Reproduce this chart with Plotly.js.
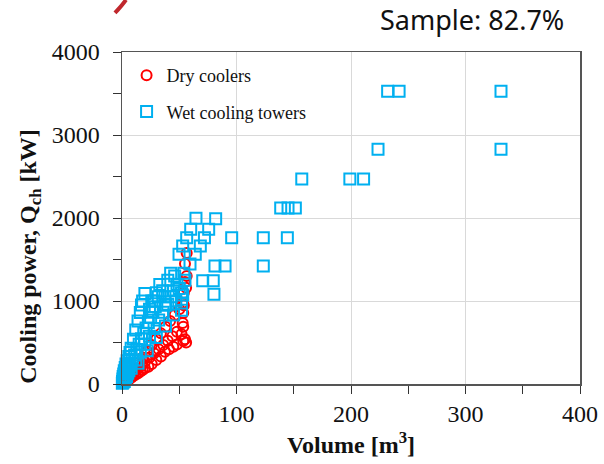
<!DOCTYPE html>
<html>
<head>
<meta charset="utf-8">
<script src="https://cdn.plot.ly/plotly-3.0.1.min.js"></script>
<style>html,body{margin:0;padding:0;background:#fff;}#chart{width:604px;height:464px;}</style>
</head>
<body>
<div id="chart"></div>
<script>
// Dry coolers (x: volume m3, y: cooling power kW)
var dryX = [0.5,0.8,1,1.5,2,2.5,3,4,6,8,10,12,14,16,18,20,23,26,30,34,37.5,41,44.8,48,53.5,55,56,
            5,8,11,14,17,20,24,28,32,36,40,44,48,53.5,
            6,10,14,18,22,26,30,34,38,42,46,50,53,
            53,53.5,54,55,56,56.5,55,56.5,52,54];
var dryY = [5,30,15,25,20,35,50,40,55,75,95,115,130,150,170,190,208,240,289,330,389,420,449,475,518,540,500,
            65,105,145,185,225,265,320,370,420,470,520,575,630,690,
            110,180,250,320,395,470,540,610,690,760,830,900,975,
            735,855,1096,1230,1160,1300,1450,1578,600,950];

// Wet cooling towers
var wetX = [0.3,0.5,0.8,1,1,1.3,1.5,1.8,2,2,2.5,2.8,3,3,3.5,4,4,4.5,5,5,6,6,
            7,8,10,12,14,16,17,18,20,
            7,9,11,13,15,17,19,21,23,25,27,29,31.7,35.5,37.5,42.5,49.8,53,56.5,60,64.6,
            8,12,16,20,24,28,32,36,40,44.8,54,64,68.4,72,75.7,81.8,
            14,22,30,38,45,52,52,53,59.4,80.3,70.5,79.7,81.2,90,95.8,123.4,144.4,123.4,
            26,30,33,40,46,48,50,43,38,47,52,55,24,28,
            138.6,145,151.4,157,199,211,223.6,331,232,242,331];
var wetY = [10,30,60,20,90,45,120,70,30,160,100,200,60,140,240,90,180,280,130,220,160,330,
            380,430,540,650,760,860,952,1000,1090,
            225,290,350,415,480,545,610,675,740,800,865,930,1052,1124,1052,1333,1562,1663,1763,1864,1996,
            190,290,385,480,575,670,770,865,960,1124,1333,1562,1663,1763,1864,1990,
            250,400,560,700,830,890,975,1072,1446,1080,1245,1245,1422,1422,1763,1763,1763,1422,
            1000,1100,1200,1250,1300,1200,1150,1050,950,1000,1100,1250,900,1000,
            2120,2120,2120,2470,2470,2470,2828,2828,3527,3527,3527];

var serif = 'Liberation Serif, Times New Roman, serif';

var traces = [
  {x: dryX, y: dryY, type: 'scatter', mode: 'markers', name: 'Dry coolers', legendgroup: 'a',
   cliponaxis: false,
   marker: {symbol: 'circle-open', size: 10, color: '#FF0000', line: {width: 2, color: '#FF0000'}}},
  {x: wetX, y: wetY, type: 'scatter', mode: 'markers', name: 'Wet cooling towers', legendgroup: 'b',
   cliponaxis: false,
   marker: {symbol: 'square-open', size: 11, color: '#00B0F0', line: {width: 2, color: '#00B0F0'}}}
];

var layout = {
  width: 604, height: 464,
  margin: {l: 122, r: 24, t: 52, b: 80},
  paper_bgcolor: '#ffffff', plot_bgcolor: '#ffffff',
  showlegend: true,
  legend: {x: 0.01, y: 0.985, xanchor: 'left', yanchor: 'top', bgcolor: 'rgba(0,0,0,0)',
           font: {family: serif, size: 18, color: '#111'}, tracegroupgap: 10, traceorder: 'grouped'},
  xaxis: {range: [0, 400], dtick: 100, tick0: 0, showgrid: true, gridcolor: '#d9d9d9', gridwidth: 1,
          zeroline: false, showline: true, linecolor: '#555', linewidth: 1.5, mirror: true,
          ticks: 'outside', ticklen: 8, tickcolor: '#333',
          minor: {dtick: 50, ticks: 'outside', ticklen: 8, tickcolor: '#333', showgrid: false},
          tickfont: {family: serif, size: 24, color: '#111'},
          title: {text: '<b>Volume [m<sup>3</sup>]</b>', font: {family: serif, size: 24, color: '#111'}, standoff: 10}},
  yaxis: {range: [0, 4000], dtick: 1000, tick0: 0, showgrid: true, gridcolor: '#d9d9d9', gridwidth: 1,
          zeroline: false, showline: true, linecolor: '#555', linewidth: 1.5, mirror: true,
          ticks: 'outside', ticklen: 8, tickcolor: '#333', ticklabelstandoff: 8,
          minor: {dtick: 500, ticks: 'outside', ticklen: 8, tickcolor: '#333', showgrid: false},
          tickfont: {family: serif, size: 24, color: '#111'}},
  annotations: [
    {text: 'Sample: 82.7%', xref: 'paper', yref: 'paper', x: 0.97, y: 1.0, xanchor: 'right', yanchor: 'bottom',
     yshift: 12, showarrow: false, font: {family: 'Noto Sans, DejaVu Sans, sans-serif', size: 27, color: '#111'}},
    {text: '<b>Cooling power, Q<sub>ch</sub> [kW]</b>', xref: 'paper', yref: 'paper', x: -0.201, y: 0.386,
     xanchor: 'center', yanchor: 'middle', textangle: -90, showarrow: false,
     font: {family: serif, size: 24, color: '#111'}}
  ],
  shapes: [
    {type: 'path', xref: 'paper', yref: 'paper',
     path: 'M -0.0153,1.1175 Q 0.0,1.14 0.0087,1.157',
     line: {color: '#C0282D', width: 4}}
  ]
};

Plotly.newPlot('chart', traces, layout, {displayModeBar: false, staticPlot: true});
</script>
</body>
</html>
